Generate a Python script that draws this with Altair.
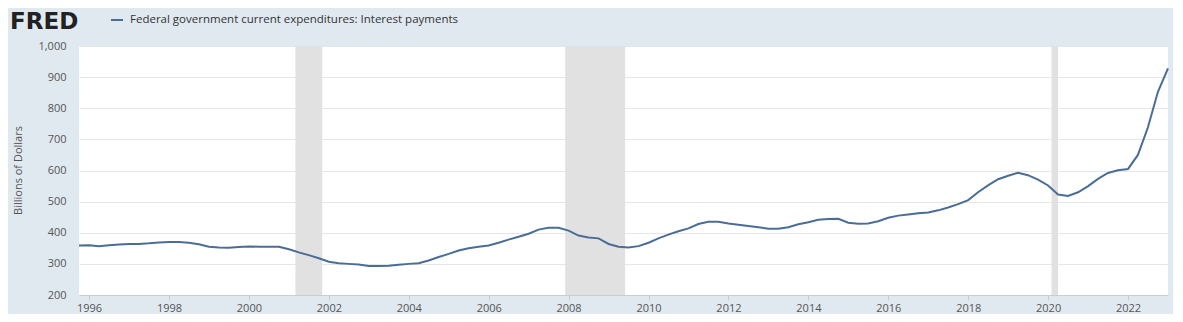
import altair as alt
import pandas as pd

# Quarterly observations, 1995Q4 .. 2023Q1 (billions of dollars)
start_quarter = "1995-10-01"
n_quarters = 110
values = [
    359, 360, 357, 360, 362, 364, 364, 366, 369, 370,
    370, 368, 363, 355, 353, 352, 354, 356, 355, 355,
    355, 347, 337, 328, 318, 307, 302, 300, 298, 293,
    293, 294, 297, 300, 302, 311, 322, 332, 343, 350,
    355, 359, 368, 378, 387, 397, 410, 416, 416, 407,
    391, 385, 382, 364, 355, 353, 357, 368, 382, 394,
    405, 414, 428, 435, 435, 430, 426, 422, 418, 413,
    413, 418, 427, 434, 442, 444, 445, 432, 429, 430,
    437, 448, 455, 459, 463, 465, 472, 481, 492, 505,
    530, 552, 572, 583, 593, 585, 571, 552, 523, 518,
    530, 550, 573, 592, 601, 605, 650, 738, 853, 928,
]
series_name = "Federal government current expenditures: Interest payments"

rec_start = ["2001-03-01", "2007-12-01", "2020-02-01"]
rec_end = ["2001-11-01", "2009-06-01", "2020-04-01"]

tick_years = list(range(1996, 2023, 2))
y_ticks = list(range(200, 1001, 100))

dates = pd.date_range(start_quarter, periods=n_quarters, freq="QS").strftime("%Y-%m-%d")
df = pd.DataFrame({"date": dates, "value": values, "series": series_name})
rec_df = pd.DataFrame({"start": rec_start, "end": rec_end})

FONT = "Open Sans"
LABEL = "#555555"
LINE = "#4a6d98"

xscale = alt.Scale(
    type="utc",
    domain=[alt.DateTime(year=1995, month=10, date=1, utc=True),
            alt.DateTime(year=2023, month=1, date=1, utc=True)],
)
xaxis = alt.Axis(
    values=[alt.DateTime(year=y, month=1, date=1, utc=True) for y in tick_years],
    format="%Y", title=None, grid=False,
    labelFont=FONT, labelFontSize=11, labelColor=LABEL, labelPadding=2,
    tickColor="#cccccc", tickSize=5, domainColor="#cccccc",
)
yscale = alt.Scale(domain=[200, 1000], nice=False, zero=False)
yaxis = alt.Axis(
    values=y_ticks, format=",.0f", title="Billions of Dollars",
    labelFont=FONT, labelFontSize=11, labelColor=LABEL,
    ticks=False, tickSize=0, labelPadding=13, domain=False,
    gridColor="#e6e6e6", gridWidth=1,
    titleFont=FONT, titleFontSize=11, titleColor=LABEL, titleFontWeight="normal",
    titleX=-61, titleY=124, titleAlign="center", titleBaseline="middle", titleAngle=-90,
)

rec = alt.Chart(rec_df).mark_rect(color="#e1e1e1").encode(
    x=alt.X("start:T", scale=xscale, axis=xaxis),
    x2="end:T",
)

line = alt.Chart(df).mark_line(strokeWidth=2).encode(
    x=alt.X("date:T", scale=xscale, axis=xaxis),
    y=alt.Y("value:Q", scale=yscale, axis=yaxis),
    color=alt.Color(
        "series:N",
        scale=alt.Scale(range=[LINE]),
        legend=alt.Legend(
            orient="none", legendX=31, legendY=-33, title=None,
            symbolType="stroke", symbolSize=144, symbolStrokeWidth=2,
            labelFont=FONT, labelFontSize=11.5, labelColor="#333333",
            labelOffset=6, padding=0, labelLimit=600,
        ),
    ),
)

logo = alt.Chart(pd.DataFrame({"t": ["FRED"]})).mark_text(
    font="DejaVu Sans", fontWeight="bold", fontSize=23, color="#222222",
    align="left", baseline="alphabetic",
).encode(text="t:N", x=alt.value(-69), y=alt.value(-17))

chart = alt.layer(rec, line, logo).properties(
    width=1089, height=249,
    autosize=alt.AutoSizeParams(type="none"),
    padding={"left": 71, "top": 38, "right": 5, "bottom": 19},
    background="#e1e9f0",
).configure_view(fill="white", stroke=None)

chart.save("out.html", embed_options={"renderer": "svg", "actions": False})
